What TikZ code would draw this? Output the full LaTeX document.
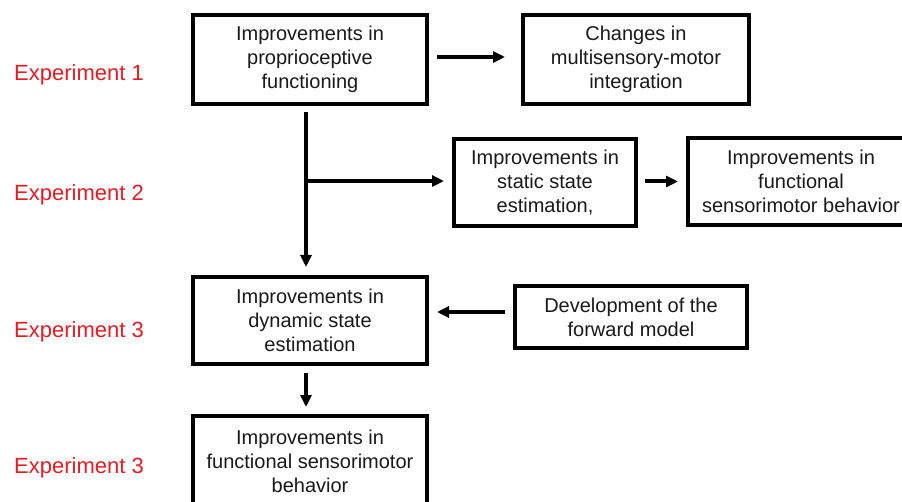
\documentclass[tikz,border=0pt]{standalone}
\usepackage{fontspec}
\setmainfont{Liberation Sans}
\usetikzlibrary{arrows.meta}
\definecolor{expred}{RGB}{228,28,36}
\definecolor{ink}{RGB}{25,25,25}
\begin{document}
\begin{tikzpicture}[x=1pt,y=-1pt,
  box/.style={draw=black,line width=4pt,rectangle,inner sep=0pt,outer sep=0pt,align=center,
    text=ink,font=\fontsize{20}{24}\selectfont},
  arr/.style={line width=4pt,-{Triangle[length=12pt,width=11pt]}},
  exp/.style={text=expred,font=\fontsize{22}{26}\selectfont,anchor=west,inner sep=0pt}]
\useasboundingbox (0,0) rectangle (902,502);
\clip (0,0) rectangle (902,502);
\fill[white] (0,0) rectangle (902,502);
% boxes
\node[box,minimum width=234pt,minimum height=89pt] (A) at (310,59.5) {Improvements in\\proprioceptive\\functioning};
\node[box,minimum width=226pt,minimum height=89pt] (B) at (636,59.5) {Changes in\\multisensory-motor\\integration};
\node[box,minimum width=182pt,minimum height=87pt] (C) at (545,182.5) {Improvements in\\static state\\estimation,};
\node[box,minimum width=226pt,minimum height=87pt] (D) at (801,181.5) {Improvements in\\functional\\sensorimotor behavior};
\node[box,minimum width=234pt,minimum height=87pt] (E) at (310,320.5) {Improvements in\\dynamic state\\estimation};
\node[box,minimum width=232pt,minimum height=62pt] (F) at (631,317) {Development of the\\forward model};
\node[box,minimum width=234pt,minimum height=90pt] (G) at (310,461) {Improvements in\\functional sensorimotor\\behavior};
% labels
\node[exp] (L1) at (14,75) {Experiment 1};
\node[exp] (L2) at (14,195) {Experiment 2};
\node[exp] (L3) at (14,332) {Experiment 3};
\node[exp] (L4) at (14,468) {Experiment 3};
% connectors
\draw[arr,shorten <=10pt,shorten >=18pt] ([yshift=2.5pt]A.east) -- ([yshift=2.5pt]A.east -| B.west);
\draw[arr,shorten <=8pt,shorten >=10pt] ([xshift=-4pt]A.south) -- ([xshift=-4pt]E.north);
\coordinate (br) at (306,181);
\draw[arr,shorten >=10pt] (br) -- (br -| C.west);
\draw[arr,shorten <=9pt,shorten >=10pt] ([yshift=1pt]C.east) -- ([yshift=1pt]C.east -| D.west);
\draw[arr,shorten <=10pt,shorten >=10pt] ([yshift=5pt]F.west) -- ([yshift=5pt]F.west -| E.east);
\draw[arr,shorten <=9pt,shorten >=9pt] ([xshift=-4pt]E.south) -- ([xshift=-4pt]G.north);
\end{tikzpicture}
\end{document}
